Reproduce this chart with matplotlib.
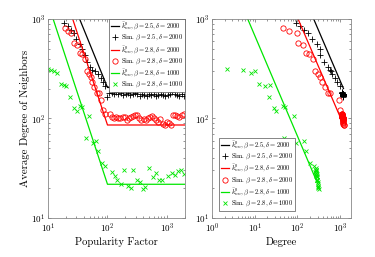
import numpy as np
import matplotlib
matplotlib.use("Agg")
import matplotlib.pyplot as plt

plt.rcParams['font.family'] = 'serif'
plt.rcParams['font.serif'] = ['cmr10', 'DejaVu Serif']
plt.rcParams['mathtext.fontset'] = 'cm'
plt.rcParams['axes.formatter.use_mathtext'] = True

# theory curves (popularity factor -> knn), beta 2.5/2.8, delta 2000/1000
th_pop_b25 = [34, 100, 2000]
th_knn_b25 = [1000, 205, 205]
th_pop_b28 = [26, 100, 2000]
th_knn_b28 = [1000, 86, 86]
th_pop_b28d1 = [12.2, 100, 2000]
th_knn_b28d1 = [1000, 21.8, 21.8]

# theory curves (degree -> knn)
th_deg_b25 = [241, 1200]
th_dknn_b25 = [1000, 200]
th_deg_b28 = [104, 1180]
th_dknn_b28 = [1000, 88]
th_deg_b28d1 = [6.9, 300]
th_dknn_b28d1 = [1000, 22]

# simulation, beta = 2.5, delta = 2000
sim1_pop = [18.6, 21.8, 24.2, 27.5, 30.1, 34.3, 36.6, 41.6, 45.6, 50.6, 55.4, 61.4, 68.1,
            76.6, 82.8, 91.8, 99.3, 107, 117, 128, 140, 153, 168, 184, 201, 220, 241, 264,
            289, 316, 346, 379, 415, 454, 497, 544, 596, 652, 714, 782, 856, 937, 1026,
            1123, 1229, 1346, 1473, 1613, 1766, 1933]
sim1_knn = [919, 857, 776, 718, 630, 557, 496, 436, 373, 333, 308, 301, 281, 254, 235, 213,
            163, 182, 180, 178, 185, 176, 180, 174, 178, 180, 172, 176, 180, 175, 170, 178,
            172, 168, 176, 172, 178, 170, 174, 176, 172, 168, 172, 176, 185, 176, 172, 170,
            175, 170]
sim1_deg = [92, 118, 140, 175, 220, 290, 330, 345, 430, 520, 595, 610, 655, 760, 850, 1010,
            1150, 1120, 1130, 1140, 1105, 1150, 1135, 1160, 1145, 1130, 1170, 1150, 1135,
            1155, 1175, 1140, 1160, 1180, 1150, 1165, 1140, 1175, 1160, 1150, 1165, 1180,
            1165, 1150, 1110, 1150, 1165, 1175, 1155, 1175]

# simulation, beta = 2.8, delta = 2000
sim2_pop = [19.1, 21.8, 24.2, 27.2, 30.9, 34.3, 37.5, 41.6, 45.6, 49.3, 51.9, 54.7, 59.8,
            65.5, 70.8, 76.6, 84.9, 91.8, 110, 119, 129, 140, 152, 165, 179, 194, 211, 229,
            248, 269, 292, 317, 344, 373, 405, 439, 476, 517, 561, 609, 661, 717, 778, 844,
            916, 994, 1079, 1171, 1271, 1379, 1496, 1624, 1762, 1912]
sim2_knn = [806, 764, 729, 570, 549, 453, 442, 394, 303, 281, 264, 232, 206, 182, 180, 154,
            122, 110, 110, 104, 100, 104, 102, 100, 104, 103, 96, 100, 104, 105, 108, 108,
            100, 96, 98, 96, 100, 104, 105, 102, 96, 92, 98, 88, 86, 92, 90, 86, 108, 108,
            107, 104, 108, 112]
sim2_deg = [45, 65, 100, 104, 135, 160, 190, 230, 264, 310, 340, 378, 450, 521, 591, 927,
            1012, 1080, 1090, 1120, 1150, 1130, 1140, 1160, 1125, 1135, 1170, 1150, 1120,
            1115, 1100, 1105, 1150, 1175, 1160, 1170, 1150, 1130, 1120, 1140, 1165, 1190,
            1160, 1200, 1210, 1185, 1195, 1215, 1110, 1115, 1120, 1130, 1110, 1100]

# simulation, beta = 2.8, delta = 1000
sim3_pop = [10.0, 11.1, 12.4, 14.2, 16.6, 18.4, 20.1, 23.5, 26.9, 30.9, 34.3, 38.0, 43.9,
            48.6, 57.5, 64.0, 70.0, 79.8, 90.8, 118, 134, 143, 167, 192, 219, 246, 273, 311,
            354, 403, 430, 508, 580, 652, 741, 824, 1040, 1214, 1380, 1510, 1722, 1960]
sim3_knn = [313, 308, 303, 285, 221, 218, 213, 164, 127, 118, 134, 129, 63, 105, 57, 59, 47,
            36, 33, 28.7, 26.6, 24.3, 22, 30.1, 20.8, 20.0, 30.1, 23.9, 22.8, 19.7, 20.3,
            31.8, 25.8, 28.3, 23.9, 23.9, 26.6, 28.3, 27.2, 29.9, 30.6, 27.7]
sim3_deg = [2.2, 5.4, 10.4, 8.4, 12.5, 22.6, 17.3, 22.2, 28, 32.4, 46.3, 52.5, 49.8, 82.4,
            93, 146, 157, 198, 240, 262, 275, 290, 300, 268, 305, 312, 270, 292, 298, 315,
            310, 266, 285, 278, 295, 290, 282, 276, 280, 272, 268, 284]

labels = [r'$\bar{k}^{0}_{nn}, \beta=2.5, \delta=2000$',
          r'Sim. $\beta=2.5, \delta=2000$',
          r'$\bar{k}^{0}_{nn}, \beta=2.8, \delta=2000$',
          r'Sim. $\beta=2.8, \delta=2000$',
          r'$\bar{k}^{0}_{nn}, \beta=2.8, \delta=1000$',
          r'Sim. $\beta=2.8, \delta=1000$']

green = '#00e600'
fig = plt.figure(figsize=(3.75, 2.57), dpi=100)
ax1 = fig.add_axes([0.128, 0.152, 0.365, 0.774])
ax2 = fig.add_axes([0.565, 0.152, 0.371, 0.774])


def draw(ax, th, sims):
    ax.plot(th[0][0], th[0][1], color='k', lw=0.9)
    ax.plot(sims[0][0], sims[0][1], '+', color='k', ms=4, mew=0.6, ls='none')
    ax.plot(th[1][0], th[1][1], color='r', lw=0.9)
    ax.plot(sims[1][0], sims[1][1], 'o', mec='r', mfc='none', ms=3.8, mew=0.6, ls='none')
    ax.plot(th[2][0], th[2][1], color=green, lw=0.9)
    ax.plot(sims[2][0], sims[2][1], 'x', color=green, ms=2.8, mew=0.6, ls='none')
    ax.set_xscale('log')
    ax.set_yscale('log')
    ax.set_ylim(10, 1000)
    ax.tick_params(which='both', direction='in', top=True, right=True,
                   labelsize=6.5, width=0.4, colors='#444444', labelcolor='k', pad=2)
    ax.tick_params(axis='x', which='both', pad=3)
    ax.tick_params(which='major', length=2.5)
    ax.tick_params(which='minor', length=1.3)
    for s in ax.spines.values():
        s.set_color('#888888')
        s.set_linewidth(0.6)


draw(ax1,
     [(th_pop_b25, th_knn_b25), (th_pop_b28, th_knn_b28), (th_pop_b28d1, th_knn_b28d1)],
     [(sim1_pop, sim1_knn), (sim2_pop, sim2_knn), (sim3_pop, sim3_knn)])
ax1.set_xlim(10, 2000)
ax1.set_xlabel('Popularity Factor', fontsize=7.6, labelpad=1)
ax1.set_ylabel('Average Degree of Neighbors', fontsize=7.8, labelpad=1)
leg1 = ax1.legend(labels, loc='upper right', fontsize=4.7, handlelength=1.3,
                  handletextpad=0.3, borderpad=0.25, labelspacing=0.15,
                  borderaxespad=0.0, fancybox=False, framealpha=1)
leg1.get_frame().set_edgecolor('#555555')
leg1.get_frame().set_linewidth(0.5)

draw(ax2,
     [(th_deg_b25, th_dknn_b25), (th_deg_b28, th_dknn_b28), (th_deg_b28d1, th_dknn_b28d1)],
     [(sim1_deg, sim1_knn), (sim2_deg, sim2_knn), (sim3_deg, sim3_knn)])
ax2.set_xlim(1, 1800)
ax2.set_xlabel('Degree', fontsize=7.6, labelpad=1)
leg2 = ax2.legend(labels, loc='lower left', fontsize=4.7, handlelength=1.3,
                  handletextpad=0.3, borderpad=0.25, labelspacing=0.15,
                  bbox_to_anchor=(0.03, 0.02), fancybox=False, framealpha=1)
leg2.get_frame().set_edgecolor('#555555')
leg2.get_frame().set_linewidth(0.5)

fig.savefig('out.png', dpi=100)
